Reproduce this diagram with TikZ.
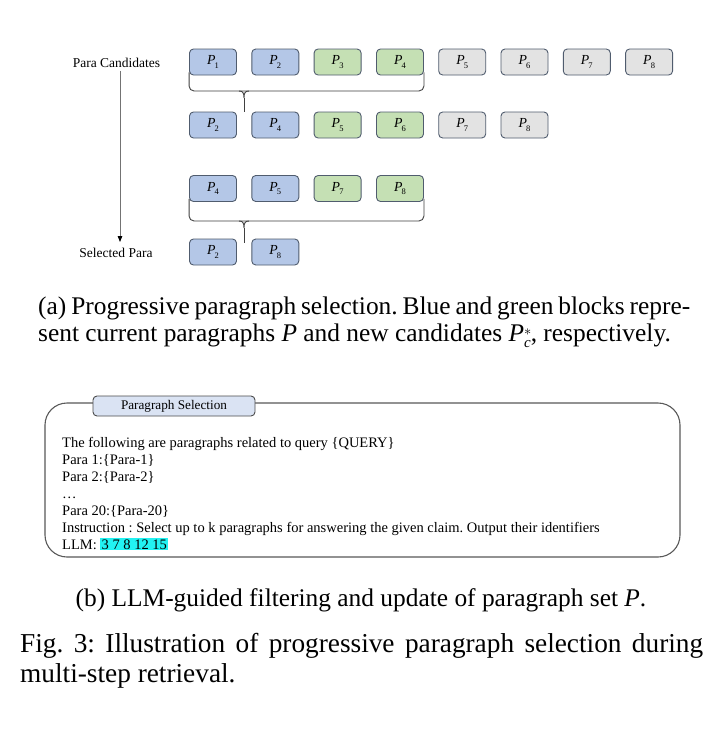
\documentclass[tikz,border=0pt]{standalone}
\usepackage{fontspec}
\setmainfont{Liberation Serif}
\usetikzlibrary{arrows.meta,calc}
\definecolor{pblue}{HTML}{B4C7E7}
\definecolor{pgreen}{HTML}{C5E0B4}
\definecolor{pgray}{HTML}{E3E3E3}
\definecolor{pborder}{HTML}{505C6E}
\definecolor{tabblue}{HTML}{DAE3F3}
\definecolor{hlcyan}{HTML}{22F2F2}
\newcommand\fsz[2]{\fontsize{#1}{#2}\selectfont}
\newcommand\plab[1]{\textit{P}\kern-0.06em\raisebox{-0.25em}{\fsz{8.5}{9}#1}}
\frenchspacing
\begin{document}
\begin{tikzpicture}[x=1pt,y=-1pt,
 pbox/.style={draw=pborder, line width=0.9pt, rounded corners=4pt, minimum width=47pt, minimum height=26pt, inner sep=0pt, font=\fsz{13.8}{14}},
 pb/.style={pbox, fill=pblue}, pg/.style={pbox, fill=pgreen}, pn/.style={pbox, fill=pgray},
 bracestyle/.style={draw=black!75, line width=0.9pt},
 lbl/.style={font=\fsz{13.5}{15}, inner sep=0pt},
 body/.style={font=\fsz{14.5}{17}, inner sep=0pt, anchor=base west},
 subcap/.style={font=\fsz{25.4}{27.5}, inner sep=0pt},
 figcap/.style={font=\fsz{27.3}{30}, inner sep=0pt}]
\useasboundingbox (0,0) rectangle (722,748);
\fill[white] (0,0) rectangle (722,748);

% side labels and arrow
\node[lbl] (lblc) at (116.5,63) {Para Candidates};
\node[lbl] (lbls) at (116,253) {Selected Para};
\draw[draw=black!55, line width=0.8pt, -{Triangle[length=6pt,width=4.5pt,color=black]}]
  ([xshift=3.5pt,yshift=-3pt]lblc.south) -- ([xshift=4pt,yshift=6pt]lbls.north);

% row 1
\node[pb] (r1c1) at (213,62) {\plab{1}};
\node[pb] (r1c2) at (275.3,62) {\plab{2}};
\node[pg] (r1c3) at (337.6,62) {\plab{3}};
\node[pg] (r1c4) at (400,62) {\plab{4}};
\node[pn] (r1c5) at (462.2,62) {\plab{5}};
\node[pn] (r1c6) at (524.5,62) {\plab{6}};
\node[pn] (r1c7) at (586.8,62) {\plab{7}};
\node[pn] (r1c8) at (649.1,62) {\plab{8}};
% row 2
\node[pb] (r2c1) at (213,125) {\plab{2}};
\node[pb] (r2c2) at (275.3,125) {\plab{4}};
\node[pg] (r2c3) at (337.6,125) {\plab{5}};
\node[pg] (r2c4) at (400,125) {\plab{6}};
\node[pn] (r2c5) at (462.2,125) {\plab{7}};
\node[pn] (r2c6) at (524.5,125) {\plab{8}};
% row 3
\node[pb] (r3c1) at (213,188.5) {\plab{4}};
\node[pb] (r3c2) at (275.3,188.5) {\plab{5}};
\node[pg] (r3c3) at (337.6,188.5) {\plab{7}};
\node[pg] (r3c4) at (400,188.5) {\plab{8}};
% row 4
\node[pb] (r4c1) at (213,252) {\plab{2}};
\node[pb] (r4c2) at (275.3,252) {\plab{8}};

% braces
\coordinate (b1) at (244,91);
\coordinate (t1) at (244,112);
\draw[bracestyle, rounded corners=5pt] ([yshift=3pt]r1c1.south west) |- (b1) -| ([yshift=3pt]r1c4.south east);
\draw[bracestyle] ([xshift=-5pt]b1) .. controls ([xshift=-1pt]b1) and ([yshift=-2pt]b1) .. ([yshift=-7pt]b1)
  .. controls ([yshift=-2pt]b1) and ([xshift=1pt]b1) .. ([xshift=5pt]b1);
\draw[bracestyle] ([yshift=-7pt]b1) -- (t1);

\coordinate (b2) at (244,221);
\coordinate (t2) at (244,243);
\draw[bracestyle, rounded corners=5pt] ([yshift=3pt]r3c1.south west) |- (b2) -| ([yshift=3pt]r3c4.south east);
\draw[bracestyle] ([xshift=-5pt]b2) .. controls ([xshift=-1pt]b2) and ([yshift=-2pt]b2) .. ([yshift=-7pt]b2)
  .. controls ([yshift=-2pt]b2) and ([xshift=1pt]b2) .. ([xshift=5pt]b2);
\draw[bracestyle] ([yshift=-7pt]b2) -- (t2);

% caption (a)
\node[subcap, anchor=base west] (capa1) at (38,314) {\makebox[652pt][s]{(a) Progressive paragraph selection. Blue and green blocks repre-}};
\node[subcap, anchor=base west] (capa2) at (38,341) {sent current paragraphs \textit{P} and new candidates \textit{P}\makebox[0pt][l]{\smash{\raisebox{0.22em}{\fsz{15}{15}$*$}}}\smash{\raisebox{-0.25em}{\fsz{15}{15}\textit{c}}}, respectively.};

% prompt box
\node[draw=black!65, line width=1.1pt, rounded corners=22pt, minimum width=635pt, minimum height=154pt, inner sep=0pt] (prompt) at (362.5,480) {};
\node[draw=black!70, line width=0.9pt, fill=tabblue, rounded corners=4pt, minimum width=162pt, minimum height=20pt, inner sep=0pt, font=\fsz{13.2}{14}] (tab) at (174,406) {Paragraph Selection};
\node[body] (t1l) at (62,447) {The following are paragraphs related to query \{QUERY\}};
\node[body] (t2l) at (62,464) {Para 1:\{Para-1\}};
\node[body] (t3l) at (62,481) {Para 2:\{Para-2\}};
\node[body] (t4l) at (62,498) {\dots};
\node[body] (t5l) at (62,515) {Para 20:\{Para-20\}};
\node[body] (t6l) at (62,532) {Instruction : Select up to k paragraphs for answering the given claim. Output their identifiers};
\node[body] (t7l) at (62,549) {LLM: {\setlength{\fboxsep}{1.2pt}\colorbox{hlcyan}{3 7 8 12 15}}};

% caption (b)
\node[subcap, anchor=base] (capb) at (361,606) {(b) LLM-guided filtering and update of paragraph set \textit{P}.};

% figure caption
\node[figcap, anchor=base west] (fig1) at (20,652) {\makebox[683pt][s]{Fig. 3: Illustration of progressive paragraph selection during}};
\node[figcap, anchor=base west] (fig2) at (20,682) {multi-step retrieval.};
\end{tikzpicture}
\end{document}
